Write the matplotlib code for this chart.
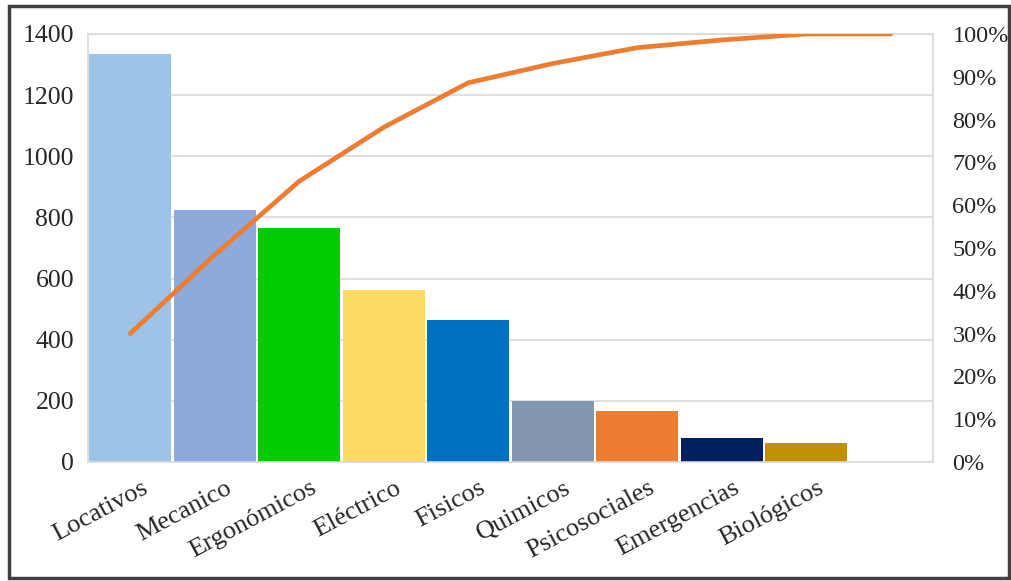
import matplotlib
matplotlib.use("Agg")
import matplotlib.pyplot as plt
import matplotlib.transforms as mtransforms
from matplotlib.patches import Rectangle

categories = ["Locativos", "Mecanico", "Ergonómicos", "Eléctrico", "Fisicos",
              "Quimicos", "Psicosociales", "Emergencias", "Biológicos"]
values = [1335, 823, 767, 564, 466, 200, 167, 79, 62]
bar_colors = ["#9DC3E6", "#8EA9DB", "#00CC00", "#FFD966", "#0070C0",
              "#8497B0", "#ED7D31", "#002060", "#BF9000"]
# cumulative percentage line (10 points, last slot empty)
cum_pct = [30.0, 48.4, 65.6, 78.2, 88.6, 93.1, 96.8, 98.6, 100.0, 100.0]
left_ticks = [0, 200, 400, 600, 800, 1000, 1200, 1400]
right_ticks = [0, 10, 20, 30, 40, 50, 60, 70, 80, 90, 100]

plt.rcParams['font.family'] = ['Liberation Serif', 'DejaVu Serif']
TXT = "#262626"

fig = plt.figure(figsize=(10.12, 5.81), dpi=100)
ax = fig.add_axes([88/1012, 1-462/581, (933-88)/1012, (462-34)/581])

xs = list(range(len(categories)))
ax.bar(xs, values, width=0.975, color=bar_colors, zorder=2)
ax.set_xlim(-0.5, len(cum_pct) - 0.5)
ax.set_ylim(0, 1400)
ax.set_yticks(left_ticks)
ax.set_yticklabels([str(t) for t in left_ticks], fontsize=18.5, color=TXT)
ax.yaxis.grid(True, color="#D9D9D9", linewidth=1.2, zorder=0)
ax.set_axisbelow(True)
ax.tick_params(axis='y', length=0, pad=10)
ax.tick_params(axis='x', length=0, pad=2)

ax.set_xticks(xs)
ax.set_xticklabels(categories, fontsize=19, rotation=28, ha='right', va='center',
                   rotation_mode='anchor', color=TXT)
offset = mtransforms.ScaledTranslation(16/100, -22/100, fig.dpi_scale_trans)
for lbl in ax.get_xticklabels():
    lbl.set_transform(lbl.get_transform() + offset)

for s in ax.spines.values():
    s.set_color("#D9D9D9")
    s.set_linewidth(1.2)

ax2 = ax.twinx()
ax2.plot(range(len(cum_pct)), cum_pct, color="#ED7D31", linewidth=3.4,
         solid_capstyle='round', zorder=5)
ax2.set_ylim(0, 100)
ax2.set_yticks(right_ticks)
ax2.set_yticklabels([f"{t}%" for t in right_ticks], fontsize=17.5, color=TXT)
ax2.tick_params(axis='y', length=0, pad=14)
for s in ax2.spines.values():
    s.set_visible(False)

# outer frame
fig.patches.append(Rectangle((9/1012, 3/581), 1000/1012, 572/581,
                             transform=fig.transFigure, fill=False,
                             edgecolor="#404040", linewidth=2.5))

fig.savefig("out.png", dpi=100)
